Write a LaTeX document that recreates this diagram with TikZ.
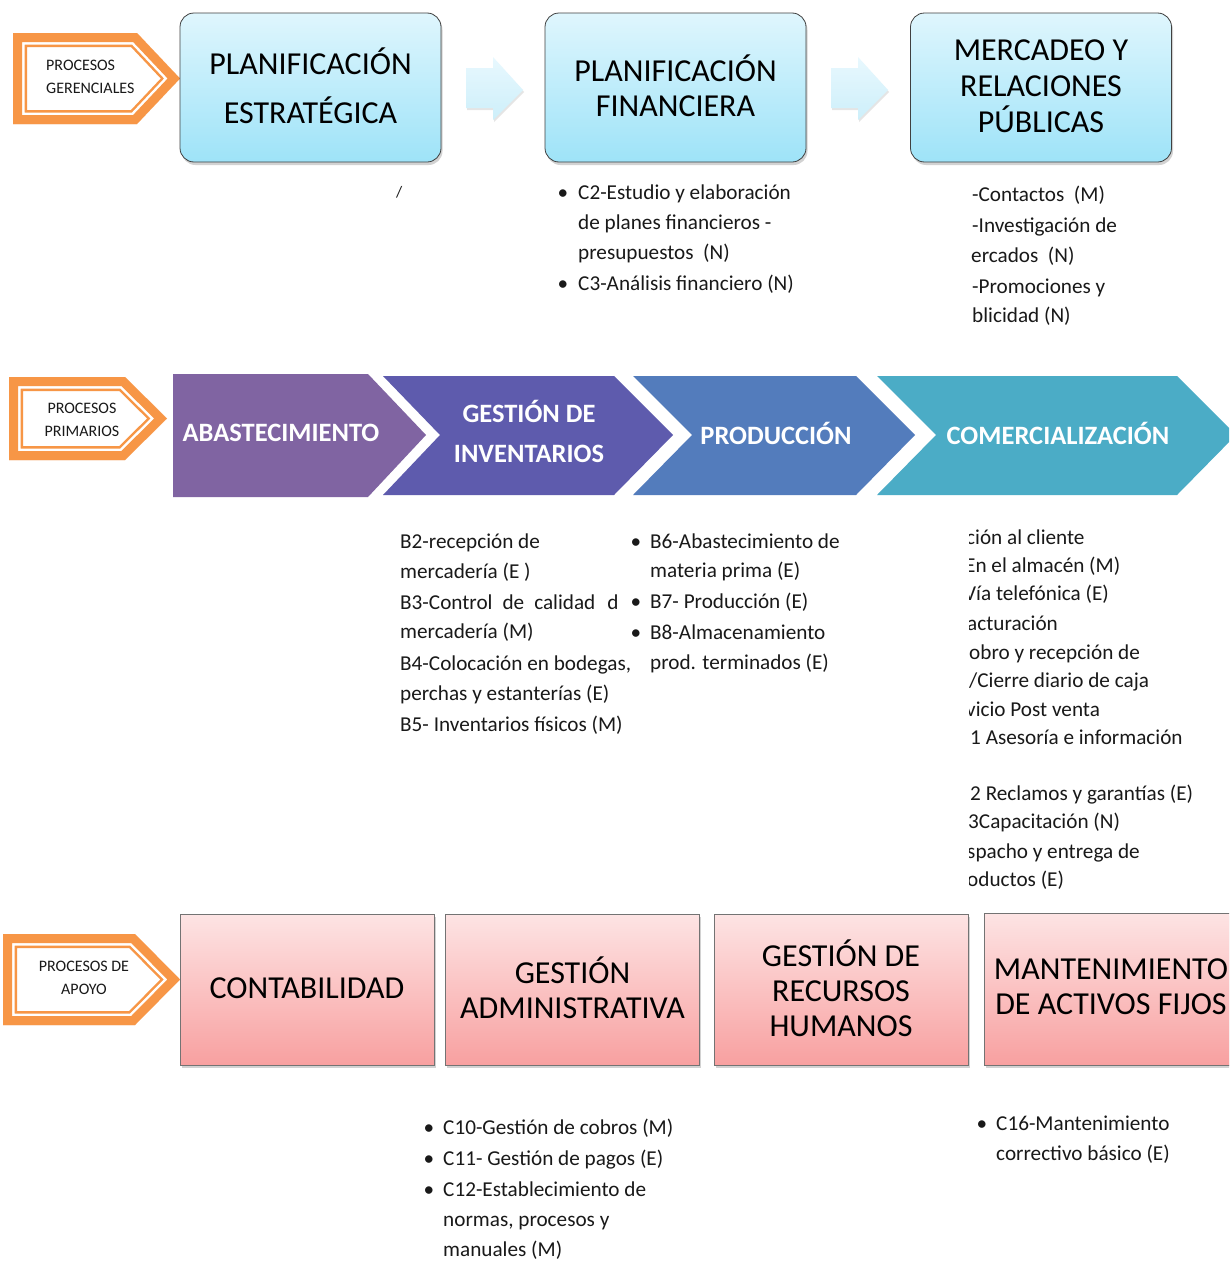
\documentclass[tikz,border=0pt]{standalone}
\usepackage{fontspec}
\setmainfont{Carlito}
\usetikzlibrary{shadows}
\definecolor{orng}{HTML}{F79646}
\definecolor{topA}{HTML}{DFF6FD}
\definecolor{topB}{HTML}{9EE3F8}
\definecolor{arrA}{HTML}{E8F8FE}
\definecolor{arrB}{HTML}{CDEFFA}
\definecolor{pinkA}{HTML}{FDE4E4}
\definecolor{pinkB}{HTML}{F8A0A0}
\definecolor{cAbas}{HTML}{8064A2}
\definecolor{cInv}{HTML}{5E5BAD}
\definecolor{cProd}{HTML}{537CBC}
\definecolor{cCom}{HTML}{4BACC6}
\tikzset{
  topbox/.style={draw=black!75, line width=0.8pt, rounded corners=14pt,
    top color=topA, bottom color=topB, align=center, inner sep=0pt,
    minimum width=261pt, minimum height=149pt,
    drop shadow={shadow xshift=1.5pt, shadow yshift=-3pt, opacity=0.35}},
  pinkbox/.style={draw=black!55, line width=0.6pt,
    top color=pinkA, bottom color=pinkB, align=center, inner sep=0pt,
    minimum width=254pt, minimum height=151pt,
    drop shadow={shadow xshift=1.5pt, shadow yshift=-3pt, opacity=0.35}},
  bigtxt/.style={font=\fontsize{32}{35}\selectfont, text=black},
  chevtxt/.style={font=\fontsize{26.5}{40}\selectfont\bfseries, text=white, align=center, inner sep=0pt},
  tagtxt/.style={font=\fontsize{16}{23}\selectfont, text=black!90, align=center, inner sep=0pt},
  lst/.style={font=\fontsize{21.2}{30}\selectfont, text=black!90, inner sep=0pt},
  lightarrow/.style={top color=arrA, bottom color=arrB, draw=none,
    drop shadow={shadow xshift=1pt, shadow yshift=-2pt, opacity=0.2}},
}
\newcommand\orangetag[5]{%
  \path[fill=white] (#1,#2) -- (#5,#2) -- (#3,{(#2+#4)/2}) -- (#5,#4) -- (#1,#4) -- cycle;
  \begin{scope}
    \clip (#1,#2) -- (#5,#2) -- (#3,{(#2+#4)/2}) -- (#5,#4) -- (#1,#4) -- cycle;
    \draw[orng, line width=28pt, line join=miter] (#1,#2) -- (#5,#2) -- (#3,{(#2+#4)/2}) -- (#5,#4) -- (#1,#4) -- cycle;
    \draw[white, line width=23pt, line join=miter] (#1,#2) -- (#5,#2) -- (#3,{(#2+#4)/2}) -- (#5,#4) -- (#1,#4) -- cycle;
    \draw[orng, line width=18pt, line join=miter] (#1,#2) -- (#5,#2) -- (#3,{(#2+#4)/2}) -- (#5,#4) -- (#1,#4) -- cycle;
  \end{scope}}
\newcommand\txt[4]{\node[lst, anchor=base west] (#1) at (#2,#3) {#4};}
\newcommand\bul[3]{\node[lst, anchor=base] (#1) at (#2,#3) {\textbullet};}
\begin{document}
\begin{tikzpicture}[x=1pt,y=-1pt]
\useasboundingbox (0,0) rectangle (1229,1261);
\fill[white] (0,0) rectangle (1229,1261);
\clip (0,0) rectangle (1229,1261);

% ---------- top row: management processes ----------
\orangetag{13}{33}{180}{124}{137}
\node[tagtxt, align=left, anchor=west] (tagG) at (46,77) {PROCESOS\\GERENCIALES};

\node[topbox, minimum width=261pt, minimum height=149pt] (pe) at (310.5,87.5) {};
\node[topbox, minimum width=261pt, minimum height=149pt] (pf) at (675.5,87.5) {};
\node[topbox, minimum width=261pt, minimum height=149pt] (mr) at (1041,87.5) {};
\node[bigtxt, align=center, font=\fontsize{32}{49}\selectfont] (pet) at (310.5,85.5) {PLANIFICACIÓN\\ESTRATÉGICA};
\node[bigtxt, align=center] (pft) at (675.5,85.5) {PLANIFICACIÓN\\FINANCIERA};
\node[bigtxt, align=center, font=\fontsize{32}{36}\selectfont] (mrt) at (1041,86) {MERCADEO Y\\RELACIONES\\PÚBLICAS};

\path[lightarrow] (466,68) -- (493,68) -- (493,57) -- (523,90) -- (493,120) -- (493,108) -- (466,108) -- cycle;
\path[lightarrow] (831,68) -- (858,68) -- (858,57) -- (888,90) -- (858,120) -- (858,108) -- (831,108) -- cycle;

\node[lst, anchor=base west, font=\fontsize{16}{16}\selectfont] (sl) at (396,197) {/};
\bul{bc2}{563}{199}\txt{c2a}{578}{199}{C2-Estudio y elaboración}
\txt{c2b}{578}{229}{de planes financieros -}
\txt{c2c}{578}{259}{presupuestos\ \ (N)}
\bul{bc3}{563}{290}\txt{c3}{578}{290}{C3-Análisis financiero (N)}

\txt{m1}{972}{201}{-Contactos\ \ (M)}
\txt{m2}{972}{232}{-Investigación de}
\txt{m3}{971}{262}{ercados\ \ (N)}
\txt{m4}{972}{293}{-Promociones y}
\txt{m5}{972}{322}{blicidad (N)}

% ---------- middle row: primary processes ----------
\orangetag{9}{377}{167}{460}{125}
\node[tagtxt] (tagP) at (82,420) {PROCESOS\\PRIMARIOS};

\fill[cAbas] (173,374) -- (368,374) -- (426,435) -- (368,497) -- (173,497) -- cycle;
\fill[cInv] (383,376) -- (614,376) -- (673,435) -- (614,495) -- (383,495) -- (440,435) -- cycle;
\fill[cProd] (633,376) -- (856,376) -- (915,435) -- (856,495) -- (633,495) -- (692,435) -- cycle;
\fill[cCom] (877,376) -- (1177,376) -- (1236,435) -- (1177,495) -- (877,495) -- (936,435) -- cycle;
\node[chevtxt] (abas) at (281,433) {ABASTECIMIENTO};
\node[chevtxt] (inv) at (529,431) {GESTIÓN DE\\INVENTARIOS};
\node[chevtxt] (prod) at (776,433) {PRODUCCIÓN};
\node[chevtxt] (com) at (1058,433) {COMERCIALIZACIÓN};

\txt{b2a}{400}{548}{B2-recepción de}
\txt{b2b}{400}{578}{mercadería (E )}
\txt{b3a}{400}{609}{B3-Control\hspace{10pt}de\hspace{10pt}calidad\hspace{12pt}d}
\txt{b3b}{400}{638}{mercadería (M)}
\txt{b4a}{400}{670}{B4-Colocación en bodegas,}
\txt{b4b}{400}{700}{perchas y estanterías (E)}
\txt{b5}{400}{731}{B5- Inventarios físicos (M)}

\bul{bb6}{636}{548}\txt{b6a}{650}{548}{B6-Abastecimiento de}
\txt{b6b}{650}{577}{materia prima (E)}
\bul{bb7}{636}{608}\txt{b7}{650}{608}{B7- Producción (E)}
\bul{bb8}{636}{639}\txt{b8a}{650}{639}{B8-Almacenamiento}
\txt{b8b}{650}{669}{prod. terminados (E)}

\begin{scope}
\clip (969,500) rectangle (1229,900);
\txt{k1}{966}{544}{ción al cliente}
\txt{k2}{965}{572}{En el almacén (M)}
\txt{k3}{964}{600}{Vía telefónica (E)}
\txt{k4}{967}{630}{acturación}
\txt{k5}{969}{659}{obro y recepción de}
\txt{k6}{969}{687}{/Cierre diario de caja}
\txt{k7}{966}{716}{vicio Post venta}
\txt{k8}{970}{744}{1 Asesoría e información}
\txt{k9}{970}{800}{2 Reclamos y garantías (E)}
\txt{k10}{968}{828}{3Capacitación (N)}
\txt{k11}{967}{858}{spacho y entrega de}
\txt{k12}{967}{886}{oductos (E)}
\end{scope}

% ---------- bottom row: support processes ----------
\orangetag{3}{934}{180}{1025}{135}
\node[tagtxt] (tagA) at (84,978) {PROCESOS DE\\APOYO};

\node[pinkbox] (cont) at (307,989.5) {};
\node[pinkbox] (gadm) at (572.5,989.5) {};
\node[pinkbox] (grh) at (841,989.5) {};
\node[pinkbox, minimum width=258pt, minimum height=152pt] (mant) at (1113,989) {};
\node[bigtxt, align=center] (contt) at (307,988) {CONTABILIDAD};
\node[bigtxt, align=center] (gadmt) at (572.5,987.5) {GESTIÓN\\ADMINISTRATIVA};
\node[bigtxt, align=center] (grht) at (841,988) {GESTIÓN DE\\RECURSOS\\HUMANOS};
\node[bigtxt, align=center] (mantt) at (1111,987) {MANTENIMIENTO\\DE ACTIVOS FIJOS};

\bul{bc10}{429}{1134}\txt{c10}{443}{1134}{C10-Gestión de cobros (M)}
\bul{bc11}{429}{1165}\txt{c11}{443}{1165}{C11- Gestión de pagos (E)}
\bul{bc12}{429}{1196}\txt{c12a}{443}{1196}{C12-Establecimiento de}
\txt{c12b}{443}{1226}{normas, procesos y}
\txt{c12c}{443}{1256}{manuales (M)}

\bul{bc16}{982}{1130}\txt{c16a}{996}{1130}{C16-Mantenimiento}
\txt{c16b}{996}{1160}{correctivo básico (E)}
\end{tikzpicture}
\end{document}
